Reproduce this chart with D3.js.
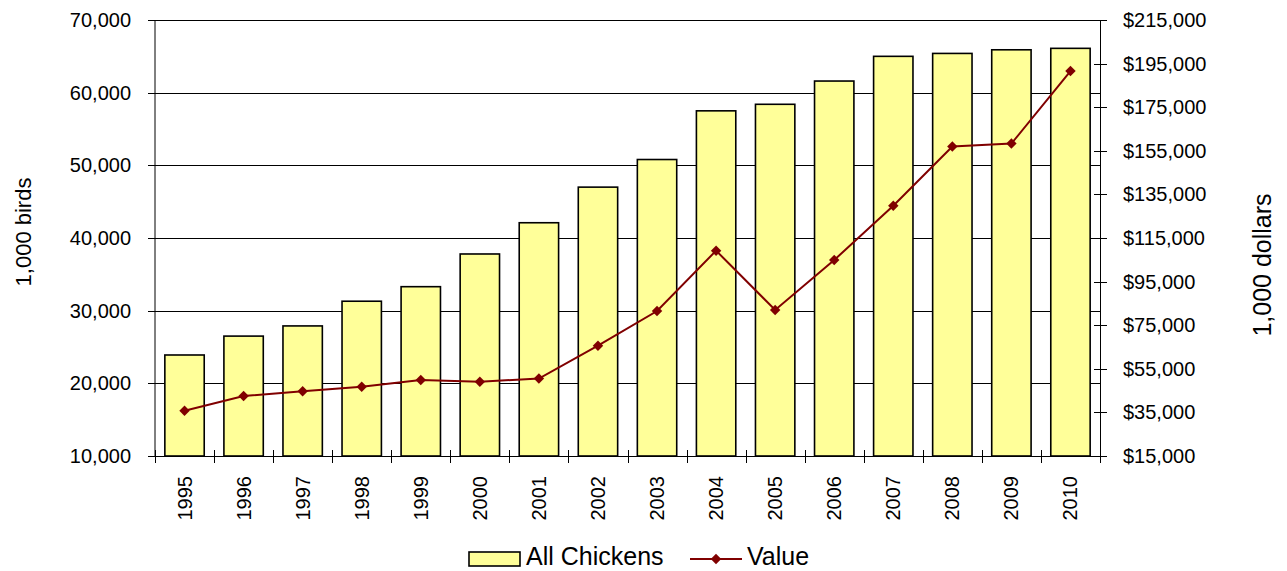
<!DOCTYPE html>
<html>
<head>
<meta charset="utf-8">
<script src="https://cdn.jsdelivr.net/npm/d3@7/dist/d3.min.js"></script>
<style>
  html, body { margin: 0; padding: 0; background: #fff; }
  svg { display: block; font-family: "Liberation Sans", Arial, sans-serif; }
</style>
</head>
<body>
<svg id="chart" width="1287" height="571"></svg>
<script>
const years = ["1995","1996","1997","1998","1999","2000","2001","2002","2003","2004","2005","2006","2007","2008","2009","2010"];
const chickens = [23900, 26500, 27900, 31300, 33300, 37800, 42100, 47000, 50800, 57500, 58400, 61600, 65000, 65400, 65900, 66100];
const value = [35800, 42500, 44700, 46800, 49900, 49100, 50500, 65600, 81500, 109200, 82000, 104900, 129800, 157000, 158300, 191600];
const leftTicks = [10000, 20000, 30000, 40000, 50000, 60000, 70000];
const rightTicks = [15000, 35000, 55000, 75000, 95000, 115000, 135000, 155000, 175000, 195000, 215000];
const seriesNames = ["All Chickens", "Value"];
const leftTitle = "1,000 birds";
const rightTitle = "1,000 dollars";

const svg = d3.select("#chart");
const L = 155, R = 1100, T = 20, B = 456;
const fontSize = 20;

const xBand = d3.scaleBand().domain(years).range([L, R]).paddingInner(1/3).paddingOuter(1/6);
const xEdge = d3.scaleBand().domain(years).range([L, R]).padding(0);
const yL = d3.scaleLinear().domain([10000, 70000]).range([B, T]);
const yR = d3.scaleLinear().domain([15000, 215000]).range([B, T]);
const fmt = d3.format(",");

// gridlines
svg.append("g").selectAll("line").data(leftTicks.slice(1)).join("line")
  .attr("x1", L).attr("x2", R)
  .attr("y1", d => Math.round(yL(d)) + 0.5).attr("y2", d => Math.round(yL(d)) + 0.5)
  .attr("stroke", "#000").attr("stroke-width", 1);

// bars
svg.append("g").selectAll("rect").data(years).join("rect")
  .attr("x", d => xBand(d))
  .attr("width", xBand.bandwidth())
  .attr("y", (d, i) => yL(chickens[i]))
  .attr("height", (d, i) => B - yL(chickens[i]))
  .attr("fill", "#FFFF99").attr("stroke", "#000").attr("stroke-width", 1.6);

// left axis
const gL = svg.append("g");
gL.append("line").attr("x1", L).attr("x2", L).attr("y1", T).attr("y2", B).attr("stroke", "#000");
gL.selectAll("line.t").data(leftTicks).join("line").attr("class", "t")
  .attr("x1", L - 7).attr("x2", L + 7)
  .attr("y1", d => Math.round(yL(d)) + 0.5).attr("y2", d => Math.round(yL(d)) + 0.5)
  .attr("stroke", "#000");
gL.selectAll("text").data(leftTicks).join("text")
  .attr("x", 131).attr("y", d => yL(d)).attr("dy", "0.35em")
  .attr("text-anchor", "end").attr("font-size", fontSize).attr("fill", "#000")
  .text(d => fmt(d));

// right axis
const gR = svg.append("g");
gR.append("line").attr("x1", R + 0.5).attr("x2", R + 0.5).attr("y1", T).attr("y2", B).attr("stroke", "#000");
gR.selectAll("line.t").data(rightTicks).join("line").attr("class", "t")
  .attr("x1", R - 6).attr("x2", R + 7)
  .attr("y1", d => Math.round(yR(d)) + 0.5).attr("y2", d => Math.round(yR(d)) + 0.5)
  .attr("stroke", "#000");
gR.selectAll("text").data(rightTicks).join("text")
  .attr("x", 1123).attr("y", d => yR(d)).attr("dy", "0.35em")
  .attr("text-anchor", "start").attr("font-size", fontSize).attr("fill", "#000")
  .text(d => "$" + fmt(d));

// x axis
const gX = svg.append("g");
gX.append("line").attr("x1", L - 7).attr("x2", R).attr("y1", B + 0.5).attr("y2", B + 0.5).attr("stroke", "#000");
gX.selectAll("line.t").data(years.concat(["end"])).join("line").attr("class", "t")
  .attr("x1", (d, i) => Math.round(L + i * xEdge.step()) + 0.5)
  .attr("x2", (d, i) => Math.round(L + i * xEdge.step()) + 0.5)
  .attr("y1", B - 6).attr("y2", B + 7)
  .attr("stroke", "#000");
gX.selectAll("text").data(years).join("text")
  .attr("transform", d => `translate(${xBand(d) + xBand.bandwidth() / 2},476) rotate(-90)`)
  .attr("dy", "0.35em")
  .attr("text-anchor", "end").attr("font-size", fontSize).attr("fill", "#000")
  .text(d => d);

// line series
const line = d3.line().x((d, i) => xBand(years[i]) + xBand.bandwidth() / 2).y(d => yR(d));
svg.append("path").datum(value).attr("d", line)
  .attr("fill", "none").attr("stroke", "#800000").attr("stroke-width", 2);
const diamond = d3.symbol().type(d3.symbolDiamond2).size(70);
svg.append("g").selectAll("path").data(value).join("path")
  .attr("transform", (d, i) => `translate(${xBand(years[i]) + xBand.bandwidth() / 2},${yR(d)})`)
  .attr("d", diamond).attr("fill", "#800000");

// axis titles
svg.append("text").attr("transform", `translate(23,232) rotate(-90)`)
  .attr("dy", "0.35em")
  .attr("text-anchor", "middle").attr("font-size", 22).attr("fill", "#000").text(leftTitle);
svg.append("text").attr("transform", `translate(1262,265) rotate(-90)`)
  .attr("dy", "0.35em")
  .attr("text-anchor", "middle").attr("font-size", 25).attr("fill", "#000").text(rightTitle);

// legend
const lg = svg.append("g");
lg.append("rect").attr("x", 469).attr("y", 552).attr("width", 51).attr("height", 14)
  .attr("fill", "#FFFF99").attr("stroke", "#000").attr("stroke-width", 1.6);
lg.append("text").attr("x", 526).attr("y", 565).attr("font-size", 25).attr("fill", "#000").text(seriesNames[0]);
lg.append("line").attr("x1", 690).attr("x2", 742).attr("y1", 559).attr("y2", 559)
  .attr("stroke", "#800000").attr("stroke-width", 2);
lg.append("path").attr("transform", "translate(716,559)").attr("d", diamond).attr("fill", "#800000");
lg.append("text").attr("x", 747).attr("y", 565).attr("font-size", 25).attr("fill", "#000").text(seriesNames[1]);
</script>
</body>
</html>
